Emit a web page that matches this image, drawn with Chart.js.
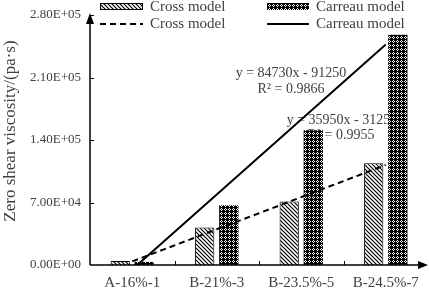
<!DOCTYPE html>
<html>
<head>
<meta charset="utf-8">
<script src="https://cdn.jsdelivr.net/npm/chart.js@4/dist/chart.umd.min.js"></script>
<style>
  html, body { margin: 0; padding: 0; background: #fff; }
  #wrap { width: 429px; height: 290px; }
</style>
</head>
<body>
<div id="wrap"><canvas id="c" width="429" height="290"></canvas></div>
<script>
const categories = ["A-16%-1", "B-21%-3", "B-23.5%-5", "B-24.5%-7"];
const crossBars = [4500, 42000, 71000, 114000];
const carreauBars = [3500, 67000, 151000, 258000];
const crossTrend = [4000, 40000, 76000, 112000];
const carreauTrend = [-5000, 79000, 163000, 247000];
const yTicks = [0, 70000, 140000, 210000, 280000];
const crossEquation = ["y = 35950x - 31250", "R\u00b2 = 0.9955"];
const carreauEquation = ["y = 84730x - 91250", "R\u00b2 = 0.9866"];
const yTitle = "Zero shear viscosity/(pa\u00b7s)";

const SERIF = "'Liberation Serif', 'DejaVu Serif', serif";
const TEXT_COLOR = "#404040";

function sci(v) {
  if (v === 0) return "0.00E+00";
  const e = Math.floor(Math.log10(v));
  const m = v / Math.pow(10, e);
  return m.toFixed(2) + "E+" + String(e).padStart(2, "0");
}

function makeHatch() {
  const c = document.createElement("canvas");
  c.width = 4; c.height = 4;
  const g = c.getContext("2d");
  g.fillStyle = "#fff";
  g.fillRect(0, 0, 4, 4);
  g.strokeStyle = "#000";
  g.lineWidth = 1.2;
  g.beginPath();
  g.moveTo(-1, -1); g.lineTo(5, 5);
  g.moveTo(-1, 3); g.lineTo(1, 5);
  g.moveTo(3, -1); g.lineTo(5, 1);
  g.stroke();
  return g.createPattern(c, "repeat");
}

function makeCrossHatch() {
  const c = document.createElement("canvas");
  c.width = 4; c.height = 4;
  const g = c.getContext("2d");
  g.fillStyle = "#000";
  g.fillRect(0, 0, 4, 4);
  g.fillStyle = "#fff";
  g.fillRect(1, 0, 1, 1);
  g.fillRect(0, 1, 1, 1);
  g.fillRect(2, 1, 1, 1);
  g.fillRect(1, 2, 1, 1);
  return g.createPattern(c, "repeat");
}

const hatch = makeHatch();
const crossHatch = makeCrossHatch();

// equations sit under the bars, so they go in before the datasets
const equationText = {
  id: "equationText",
  beforeDatasetsDraw(chart) {
    const g = chart.ctx;
    g.save();
    g.fillStyle = TEXT_COLOR;
    g.font = "14px " + SERIF;
    g.textAlign = "center";
    g.textBaseline = "middle";
    g.fillText(carreauEquation[0], 291, 73);
    g.fillText(carreauEquation[1], 291, 89);
    g.fillText(crossEquation[0], 342, 120);
    g.fillText(crossEquation[1], 341, 135);
    g.restore();
  },
};

const axesAndLegend = {
  id: "axesAndLegend",
  afterDatasetsDraw(chart) {
    const g = chart.ctx;
    const area = chart.chartArea;
    const x = chart.scales.x;
    const y = chart.scales.y;
    const x0 = area.left;
    const y0 = y.getPixelForValue(0);
    const yTop = y.getPixelForValue(yTicks[yTicks.length - 1]);
    g.save();
    g.strokeStyle = "#000";
    g.fillStyle = "#000";
    g.lineWidth = 1.5;
    g.beginPath();
    g.moveTo(x0, y0); g.lineTo(x0, yTop + 6);
    g.moveTo(x0, y0); g.lineTo(area.right - 6, y0);
    g.stroke();
    // arrow heads
    g.beginPath();
    g.moveTo(x0, yTop - 2); g.lineTo(x0 - 4, yTop + 9); g.lineTo(x0 + 4, yTop + 9); g.closePath();
    g.fill();
    g.beginPath();
    g.moveTo(area.right, y0); g.lineTo(area.right - 10, y0 - 4); g.lineTo(area.right - 10, y0 + 4); g.closePath();
    g.fill();
    // inward ticks
    g.lineWidth = 1;
    g.beginPath();
    yTicks.forEach((v) => {
      if (v === 0) return;
      const py = Math.round(y.getPixelForValue(v)) + 0.5;
      g.moveTo(x0, py); g.lineTo(x0 + 4, py);
    });
    for (let i = 1; i < categories.length; i++) {
      const px = Math.round((x.getPixelForValue(i - 1) + x.getPixelForValue(i)) / 2) + 0.5;
      g.moveTo(px, y0); g.lineTo(px, y0 - 4);
    }
    g.stroke();

    // tick labels
    g.fillStyle = TEXT_COLOR;
    g.font = "13px " + SERIF;
    g.textAlign = "right";
    g.textBaseline = "middle";
    yTicks.forEach((v) => g.fillText(sci(v), x0 - 9, y.getPixelForValue(v)));
    g.font = "15px " + SERIF;
    g.textAlign = "center";
    categories.forEach((c, i) => g.fillText(c, x.getPixelForValue(i), 283));

    // y title
    g.save();
    g.translate(11, 131);
    g.rotate(-Math.PI / 2);
    g.font = "17px " + SERIF;
    g.fillText(yTitle, 0, 0);
    g.restore();

    // legend
    g.font = "15px " + SERIF;
    g.textAlign = "left";
    g.fillStyle = hatch;
    g.fillRect(100, 3, 43, 7);
    g.strokeStyle = "#000";
    g.lineWidth = 1;
    g.strokeRect(100.5, 3.5, 42, 6);
    g.fillStyle = crossHatch;
    g.fillRect(267, 3, 42, 7);
    g.lineWidth = 2;
    g.setLineDash([6, 4]);
    g.beginPath(); g.moveTo(100, 24); g.lineTo(143, 24); g.stroke();
    g.setLineDash([]);
    g.beginPath(); g.moveTo(267, 24); g.lineTo(309, 24); g.stroke();
    g.fillStyle = TEXT_COLOR;
    g.fillText(chart.data.datasets[2].label, 150, 7);
    g.fillText(chart.data.datasets[3].label, 316, 7);
    g.fillText(chart.data.datasets[0].label, 150, 24);
    g.fillText(chart.data.datasets[1].label, 316, 24);
    g.restore();
  },
};

new Chart(document.getElementById("c"), {
  data: {
    labels: categories,
    datasets: [
      {
        type: "line",
        label: "Cross model",
        data: crossTrend,
        borderColor: "#000",
        borderWidth: 2,
        borderDash: [6, 4],
        pointRadius: 0,
        fill: false,
      },
      {
        type: "line",
        label: "Carreau model",
        data: carreauTrend,
        borderColor: "#000",
        borderWidth: 2,
        pointRadius: 0,
        fill: false,
      },
      {
        type: "bar",
        label: "Cross model",
        data: crossBars,
        backgroundColor: hatch,
        borderColor: "#000",
        borderWidth: 1,
        categoryPercentage: 0.57,
        barPercentage: 0.8,
      },
      {
        type: "bar",
        label: "Carreau model",
        data: carreauBars,
        backgroundColor: crossHatch,
        borderColor: "#000",
        borderWidth: 0,
        categoryPercentage: 0.57,
        barPercentage: 0.8,
      },
    ],
  },
  options: {
    responsive: false,
    animation: false,
    layout: { padding: { left: 90, right: 1, top: 15, bottom: 25 } },
    scales: {
      x: { display: false, offset: true },
      y: { display: false, min: 0, max: 280000 },
    },
    plugins: {
      legend: { display: false },
      tooltip: { enabled: false },
    },
  },
  plugins: [equationText, axesAndLegend],
});
</script>
</body>
</html>
